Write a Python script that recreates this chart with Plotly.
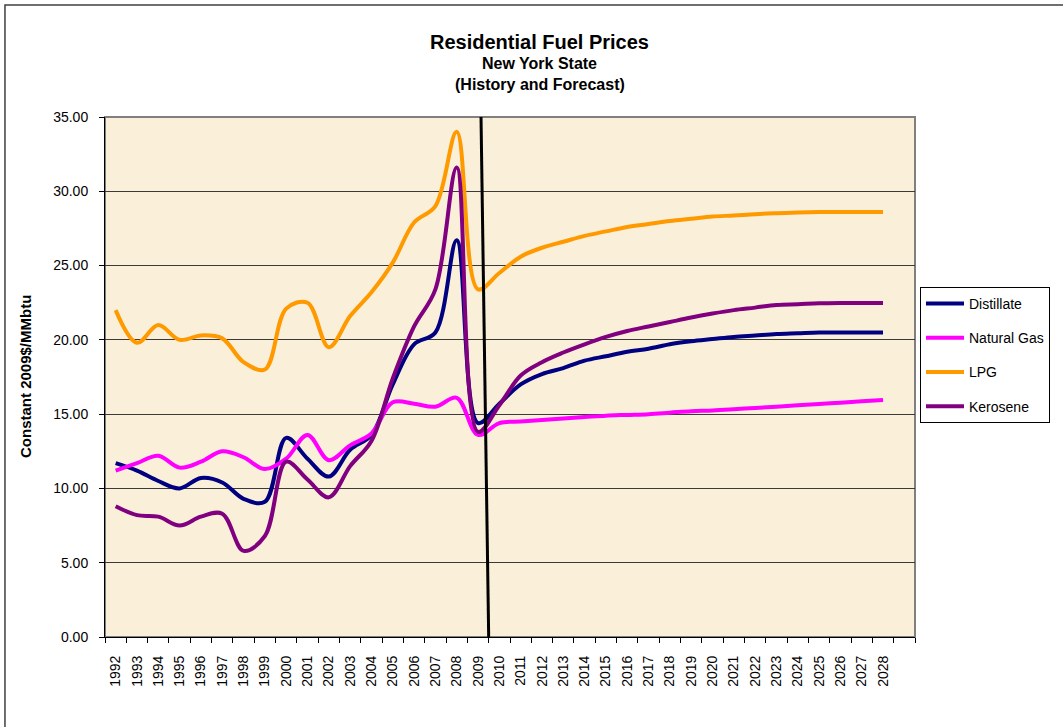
import plotly.graph_objects as go

years = [str(y) for y in range(1992, 2029)]
axis_categories = years + [" "]

distillate = [11.7, 11.2, 10.5, 10.0, 10.7, 10.4, 9.3, 9.1, 13.4, 12.0, 10.8, 12.6, 13.6,
              17.0, 19.7, 20.5, 26.7, 14.4, 15.7, 17.0, 17.7, 18.1, 18.6, 18.9, 19.2, 19.4,
              19.7, 19.9, 20.05, 20.2, 20.3, 20.4, 20.45, 20.5, 20.5, 20.5, 20.5]
natural_gas = [11.2, 11.7, 12.2, 11.4, 11.8, 12.5, 12.1, 11.3, 12.0, 13.6, 11.9, 12.9, 13.7,
               15.8, 15.7, 15.5, 16.1, 13.6, 14.4, 14.5, 14.6, 14.7, 14.8, 14.9, 14.95, 15.0,
               15.1, 15.2, 15.25, 15.33, 15.42, 15.5, 15.6, 15.68, 15.77, 15.86, 15.95]
lpg = [22.0, 19.8, 21.0, 20.0, 20.3, 20.1, 18.5, 18.0, 22.1, 22.5, 19.5, 21.6, 23.2,
       25.2, 27.9, 29.0, 34.0, 23.4, 24.5, 25.6, 26.2, 26.6, 27.0, 27.3, 27.6, 27.8,
       28.0, 28.15, 28.3, 28.37, 28.46, 28.52, 28.57, 28.6, 28.6, 28.6, 28.6]
kerosene = [8.8, 8.2, 8.1, 7.5, 8.1, 8.3, 5.8, 6.8, 11.8, 10.6, 9.4, 11.5, 13.2,
            17.4, 20.9, 23.4, 31.6, 13.8, 15.6, 17.6, 18.5, 19.15, 19.7, 20.2, 20.6, 20.9,
            21.2, 21.5, 21.77, 22.0, 22.17, 22.35, 22.4, 22.46, 22.48, 22.48, 22.48]

series_names = ["Distillate", "Natural Gas", "LPG", "Kerosene"]
series_values = [distillate, natural_gas, lpg, kerosene]
series_colors = ["#000080", "#FF00FF", "#FF9900", "#800080"]

last_history_year = "2009"
y_ticks = [0, 5, 10, 15, 20, 25, 30, 35]

FONT = "Liberation Sans, Arial, sans-serif"

fig = go.Figure()
for name, vals, col in zip(series_names, series_values, series_colors):
    fig.add_trace(go.Scatter(
        x=years, y=vals, name=name, mode="lines",
        line=dict(color=col, width=4, shape="spline", smoothing=1.0),
        legendgroup=name,
    ))

# forecast divider line (slightly slanted, as in the original)
idx = years.index(last_history_year)
fig.add_shape(type="line", xref="x", yref="y",
              x0=idx + 0.5, y0=0, x1=idx + 0.14, y1=35,
              line=dict(color="black", width=3), layer="above")

# gray plot-area border (top/right)
fig.add_shape(type="rect", xref="paper", yref="paper", x0=0, y0=0, x1=1, y1=1,
              line=dict(color="#808080", width=2), layer="below")
# outer chart border
fig.add_shape(type="rect", xref="paper", yref="paper",
              x0=-0.1235, y0=-0.2, x1=1.2, y1=1.2154,
              line=dict(color="#404040", width=1.5), layer="below")

fig.add_annotation(text="<b>Residential Fuel Prices</b>", xref="paper", yref="paper",
                   x=0.537, y=1.0 + (117 - 42) / 520, xanchor="center", yanchor="middle",
                   showarrow=False, font=dict(family=FONT, size=20, color="black"))
fig.add_annotation(text="<b>New York State</b>", xref="paper", yref="paper",
                   x=0.537, y=1.0 + (117 - 64) / 520, xanchor="center", yanchor="middle",
                   showarrow=False, font=dict(family=FONT, size=16, color="black"))
fig.add_annotation(text="<b>(History and Forecast)</b>", xref="paper", yref="paper",
                   x=0.537, y=1.0 + (117 - 84) / 520, xanchor="center", yanchor="middle",
                   showarrow=False, font=dict(family=FONT, size=16, color="black"))
fig.add_annotation(text="<b>Constant 2009$/MMbtu</b>", xref="paper", yref="paper",
                   x=(25 - 105) / 810, y=0.5, xanchor="center", yanchor="middle",
                   textangle=-90, showarrow=False,
                   font=dict(family=FONT, size=15, color="black"))

fig.update_layout(
    width=1063, height=727,
    margin=dict(l=105, r=148, t=117, b=90),
    paper_bgcolor="white",
    plot_bgcolor="#FAF0D9",
    font=dict(family=FONT, size=14, color="black"),
    showlegend=True,
    legend=dict(x=(920 - 105) / 810, y=1 - (287 - 117) / 520, xanchor="left", yanchor="top",
                bordercolor="black", borderwidth=1, bgcolor="white",
                font=dict(family=FONT, size=14, color="black"),
                tracegroupgap=13, traceorder="grouped", itemwidth=38),
)

fig.update_xaxes(
    type="category", categoryorder="array", categoryarray=axis_categories,
    range=[-0.5, len(axis_categories) - 0.5], tickmode="linear", dtick=1,
    tickson="boundaries", ticks="outside", ticklen=5, tickcolor="black",
    tickangle=-90, tickfont=dict(family=FONT, size=14, color="black"),
    showline=True, linecolor="black", linewidth=1, showgrid=False, zeroline=False,
    ticklabelstandoff=12,
)
fig.update_yaxes(
    range=[0, 35], tickmode="array", tickvals=y_ticks,
    ticktext=[f"{v:.2f}" for v in y_ticks],
    ticks="outside", ticklen=5, tickcolor="black",
    tickfont=dict(family=FONT, size=14, color="black"),
    showline=True, linecolor="black", linewidth=1,
    showgrid=True, gridcolor="#3a3a3a", gridwidth=1, zeroline=False,
    ticklabelstandoff=8,
)

fig.write_html("out.html", config={"displayModeBar": False},
               post_script="document.body.style.margin='0px';")
